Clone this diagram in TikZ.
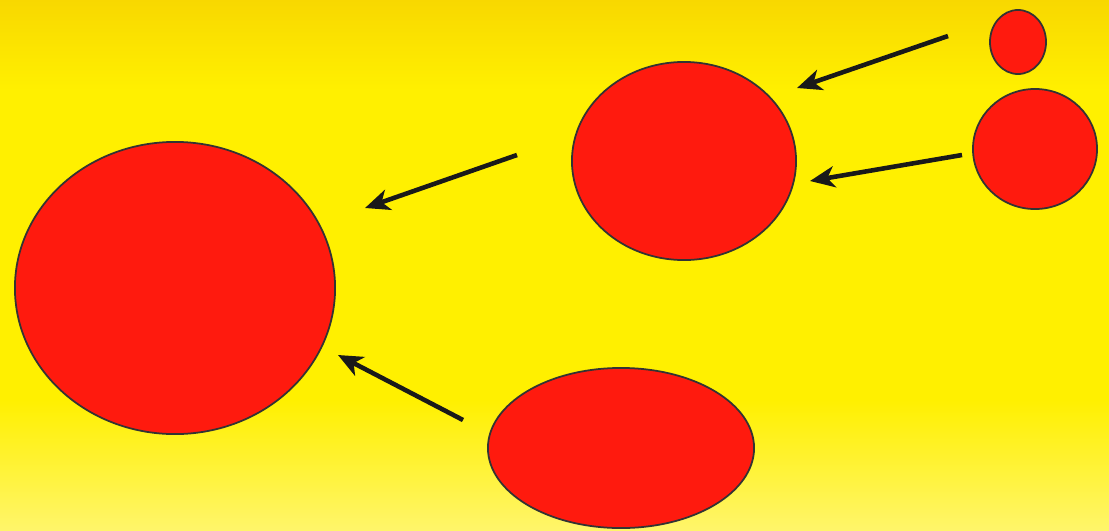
\documentclass[tikz,border=0pt]{standalone}
\usepackage{xcolor}
\definecolor{skyTop}{HTML}{F8D800}
\definecolor{skyMid}{HTML}{FFF000}
\definecolor{skyLow}{HTML}{FFF56A}
\definecolor{blobRed}{HTML}{FF1A0E}
\usetikzlibrary{shapes.geometric,arrows.meta}
\begin{document}
\begin{tikzpicture}[x=0.01cm, y=-0.01cm, >={Stealth[length=7pt,width=6pt,inset=2pt]},
  blob/.style={ellipse, draw=black!80, line width=0.5pt, fill=blobRed, inner sep=0pt},
  push/.style={->, line width=1.3pt, black!90}]
  % background
  \fill[skyMid] (0,0) rectangle (1109,530);
  \shade[top color=skyTop, bottom color=skyMid] (0,0) rectangle (1109,90);
  \shade[top color=skyMid, bottom color=skyLow] (0,400) rectangle (1109,530);
  \useasboundingbox (0,0) rectangle (1109,530);
  % the bodies
  \node[blob, minimum width=3.20cm, minimum height=2.92cm] (big) at (175,288) {};
  \node[blob, minimum width=2.24cm, minimum height=1.98cm] (mid) at (684,161) {};
  \node[blob, minimum width=0.56cm, minimum height=0.64cm] (tiny) at (1018,42) {};
  \node[blob, minimum width=1.24cm, minimum height=1.20cm] (right) at (1035,149) {};
  \node[blob, minimum width=2.66cm, minimum height=1.60cm] (low) at (621,448) {};
  % arrow ends
  \coordinate (tinyOut) at (948,36);
  \coordinate (midInA) at (797,88);
  \coordinate (rightOut) at (962,155);
  \coordinate (midInB) at (810,181);
  \coordinate (midOut) at (517,155);
  \coordinate (bigInA) at (365,208);
  \coordinate (lowOut) at (463,420);
  \coordinate (bigInB) at (338,355);
  \draw[push] (tinyOut) -- (midInA);
  \draw[push] (rightOut) -- (midInB);
  \draw[push] (midOut) -- (bigInA);
  \draw[push] (lowOut) -- (bigInB);
\end{tikzpicture}
\end{document}
